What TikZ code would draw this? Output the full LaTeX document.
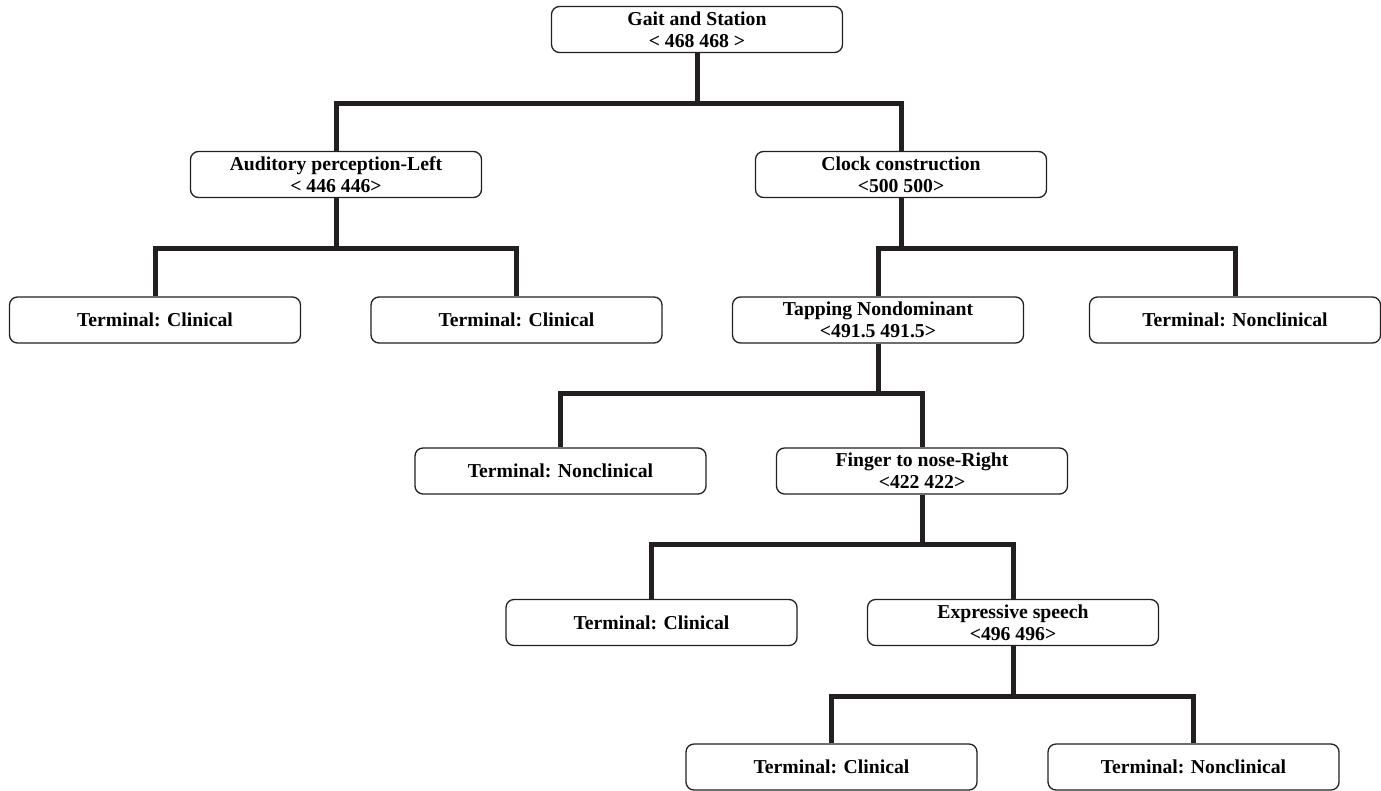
\documentclass[tikz,border=0pt]{standalone}
\usepackage{fontspec}
\setmainfont{Liberation Serif}
\usetikzlibrary{positioning}
\definecolor{ink}{HTML}{231F20}

\begin{document}
\begin{tikzpicture}[x=1pt,y=-1pt,
  box/.style={draw=ink,rounded corners=8pt,line width=1.3pt,minimum width=291pt,
    minimum height=46pt,inner sep=1pt,align=center,
    font=\fontsize{19.7}{22}\selectfont\bfseries},
  branch/.style={ink,line width=5pt,line join=miter}]
  \useasboundingbox (0,0) rectangle (1381,790);

  % Decision nodes
  \node[box] (gait)   at (697,29.5)  {Gait and Station\\< 468 468 >};
  \node[box] (audit)  at (336,174.5) {Auditory perception-Left\\< 446 446>};
  \node[box] (clock)  at (901,174.5) {Clock construction\\<500 500>};
  \node[box] (tap)    at (878,320)   {Tapping Nondominant\\<491.5 491.5>};
  \node[box] (finger) at (922,471)   {Finger to nose-Right\\<422 422>};
  \node[box] (speech) at (1013,622.5){Expressive speech\\<496 496>};

  % Terminal nodes
  \node[box] (termA) at (155,320)    {Terminal: Clinical};
  \node[box] (termB) at (516.5,320)  {Terminal: Clinical};
  \node[box] (termC) at (1235,320)   {Terminal: Nonclinical};
  \node[box] (termD) at (560.5,471)  {Terminal: Nonclinical};
  \node[box] (termE) at (651.5,622.5){Terminal: Clinical};
  \node[box] (termF) at (831.5,767)  {Terminal: Clinical};
  \node[box] (termG) at (1193.5,767) {Terminal: Nonclinical};

  % Branches
  \foreach \p/\c in {gait/audit, gait/clock, audit/termA, audit/termB,
      clock/tap, clock/termC, tap/termD, tap/finger,
      finger/termE, finger/speech, speech/termF, speech/termG} {
    \draw[branch] (\p.south) -- ++(0,50) -| (\c.north);
  }
\end{tikzpicture}
\end{document}
